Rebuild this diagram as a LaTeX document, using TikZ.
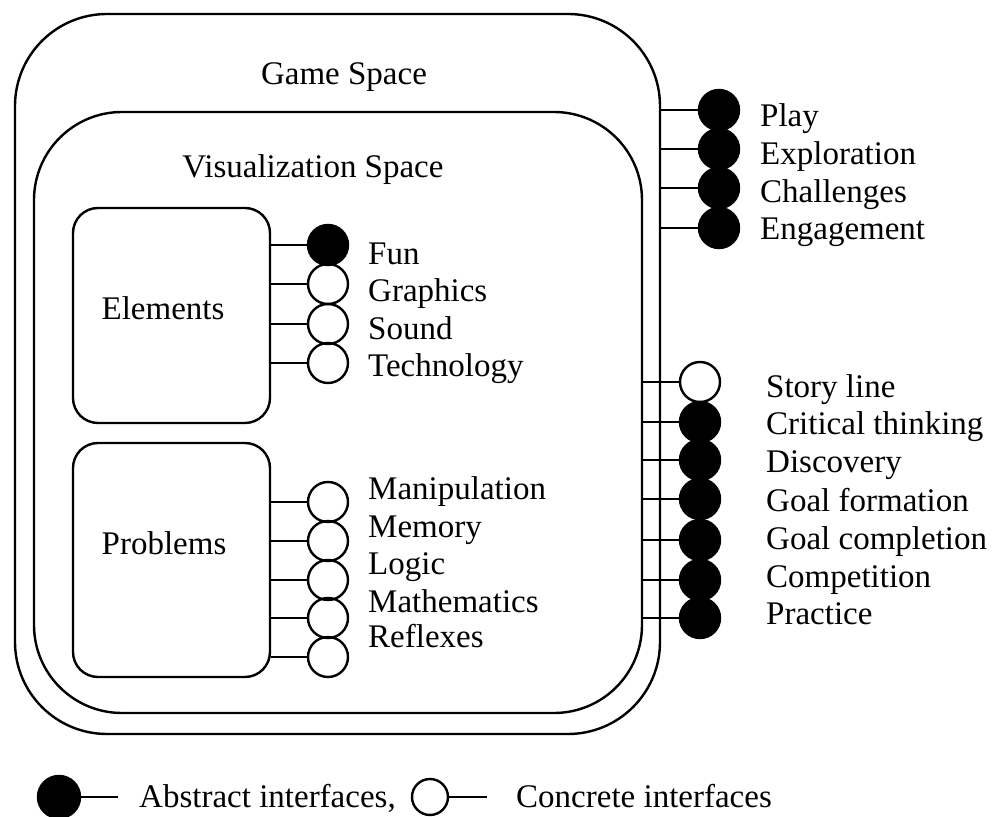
\documentclass[tikz,border=0pt]{standalone}
\usepackage{fontspec}
\setmainfont{Liberation Serif}
\usetikzlibrary{positioning}

\begin{document}
\begin{tikzpicture}[x=0.5pt, y=-0.5pt, line width=1.2pt,
    space/.style={draw, rounded corners=#1, inner sep=0pt},
    abstract/.style={circle, draw, fill=black, minimum size=20pt, inner sep=0pt},
    concrete/.style={circle, draw, minimum size=20pt, inner sep=0pt},
    lbl/.style={anchor=base west, inner sep=0pt, font=\fontsize{16.5}{20}\selectfont},
    ttl/.style={anchor=base, inner sep=0pt, font=\fontsize{16.5}{20}\selectfont}]
  \useasboundingbox (0,0) rectangle (992,817);

  % nested spaces
  \node[space=46pt, minimum width=322.5pt, minimum height=360pt] (game) at (337.5,374) {};
  \node[space=44pt, minimum width=304pt, minimum height=300.5pt] (vis) at (338,412.5) {};
  \node[space=12.5pt, minimum width=98.5pt, minimum height=107.5pt] (elements) at (171.5,315.5) {};
  \node[space=12.5pt, minimum width=98.5pt, minimum height=117pt] (problems) at (171.5,560) {};
  \node[ttl] (game-t) at (344,85) {Game Space};
  \node[ttl] (vis-t) at (313,178) {Visualization Space};
  \node[ttl] (elements-t) at (163,320) {Elements};
  \node[ttl] (problems-t) at (164,555) {Problems};

  % elements
  \node[abstract] (fun) at (328,245) {};      \node[lbl] (fun-t) at (367,265) {Fun};
  \node[concrete] (graphics) at (328,284) {}; \node[lbl] (graphics-t) at (367,302) {Graphics};
  \node[concrete] (sound) at (328,324) {};    \node[lbl] (sound-t) at (367,340) {Sound};
  \node[concrete] (tech) at (328,363) {};     \node[lbl] (tech-t) at (367,377) {Technology};
  \draw (elements.east |- fun) -- (fun)
        (elements.east |- graphics) -- (graphics)
        (elements.east |- sound) -- (sound)
        (elements.east |- tech) -- (tech);

  % problems
  \node[concrete] (manip) at (328,502) {};    \node[lbl] (manip-t) at (367,500) {Manipulation};
  \node[concrete] (memory) at (328,541) {};   \node[lbl] (memory-t) at (367,538) {Memory};
  \node[concrete] (logic) at (328,580) {};    \node[lbl] (logic-t) at (367,575) {Logic};
  \node[concrete] (maths) at (328,618) {};    \node[lbl] (maths-t) at (367,613) {Mathematics};
  \node[concrete] (reflexes) at (328,657) {}; \node[lbl] (reflexes-t) at (367,648) {Reflexes};
  \draw (problems.east |- manip) -- (manip)
        (problems.east |- memory) -- (memory)
        (problems.east |- logic) -- (logic)
        (problems.east |- maths) -- (maths)
        (problems.east |- reflexes) -- (reflexes);

  % game space interfaces
  \node[abstract] (play) at (719,110) {};        \node[lbl] (play-t) at (759,127) {Play};
  \node[abstract] (explore) at (719,149) {};     \node[lbl] (explore-t) at (759,165) {Exploration};
  \node[abstract] (challenge) at (719,188) {};   \node[lbl] (challenge-t) at (759,203) {Challenges};
  \node[abstract] (engage) at (719,228) {};      \node[lbl] (engage-t) at (759,240) {Engagement};
  \draw (game.east |- play) -- (play)
        (game.east |- explore) -- (explore)
        (game.east |- challenge) -- (challenge)
        (game.east |- engage) -- (engage);

  % visualization space interfaces
  \node[concrete] (story) at (700,382) {};       \node[lbl] (story-t) at (765,398) {Story line};
  \node[abstract] (critical) at (700,422) {};    \node[lbl] (critical-t) at (765,435) {Critical thinking};
  \node[abstract] (discovery) at (700,460) {};   \node[lbl] (discovery-t) at (765,473) {Discovery};
  \node[abstract] (goalform) at (700,499) {};    \node[lbl] (goalform-t) at (765,512) {Goal formation};
  \node[abstract] (goalcomp) at (700,540) {};    \node[lbl] (goalcomp-t) at (765,550) {Goal completion};
  \node[abstract] (compete) at (700,580) {};     \node[lbl] (compete-t) at (765,588) {Competition};
  \node[abstract] (practice) at (700,618) {};    \node[lbl] (practice-t) at (765,625) {Practice};
  \draw (vis.east |- story) -- (story)
        (vis.east |- critical) -- (critical)
        (vis.east |- discovery) -- (discovery)
        (vis.east |- goalform) -- (goalform)
        (vis.east |- goalcomp) -- (goalcomp)
        (vis.east |- compete) -- (compete)
        (vis.east |- practice) -- (practice);

  % key
  \node[abstract, minimum size=21pt] (key-abs) at (59,797) {};
  \coordinate (key-abs-end) at (118,797);
  \draw (key-abs) -- (key-abs-end);
  \node[lbl] (key-abs-t) at (138,808) {Abstract interfaces,};
  \node[concrete, minimum size=18pt] (key-con) at (430,797) {};
  \coordinate (key-con-end) at (487,797);
  \draw (key-con) -- (key-con-end);
  \node[lbl] (key-con-t) at (515,808) {Concrete interfaces};
\end{tikzpicture}
\end{document}
